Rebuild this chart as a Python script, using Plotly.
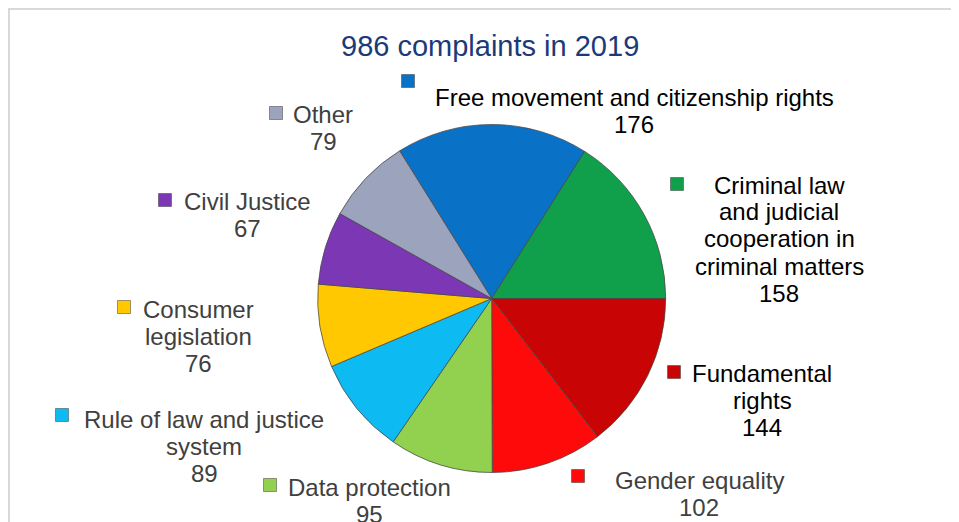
import plotly.graph_objects as go

# ---- data ----
categories = [
    "Free movement and citizenship rights",
    "Criminal law and judicial cooperation in criminal matters",
    "Fundamental rights",
    "Gender equality",
    "Data protection",
    "Rule of law and justice system",
    "Consumer legislation",
    "Civil Justice",
    "Other",
]
values = [176, 158, 144, 102, 95, 89, 76, 67, 79]
label_lines = [
    ["Free movement and citizenship rights"],
    ["Criminal law", "and judicial", "cooperation in", "criminal matters"],
    ["Fundamental", "rights"],
    ["Gender equality"],
    ["Data protection"],
    ["Rule of law and justice", "system"],
    ["Consumer", "legislation"],
    ["Civil Justice"],
    ["Other"],
]
title_text = "986 complaints in 2019"

# ---- styles ----
colors = ["#0A72C6", "#10A04C", "#C80404", "#FF0A0A", "#92D050",
          "#0DBBF2", "#FFC800", "#7C38B4", "#9CA3BC"]
text_colors = ["#000000", "#000000", "#000000", "#404040", "#404040",
               "#404040", "#404040", "#404040", "#404040"]
W, H = 959, 522
OFF = 8  # page body margin of the html page
# label text centre (x, first line y) in page pixels
label_pos = [(634, 97), (779, 185), (762, 373), (699, 480), (369, 487),
             (204, 419), (198, 309), (247, 201), (323, 115)]
marker_pos = [(408, 81), (677, 184), (674, 372), (578, 476), (270, 485),
              (62, 415), (124, 307), (165, 200), (276, 113)]
line_gap = 27
font_size = 24


def px(x):
    return (x - OFF) / W


def py(y):
    return 1 - (y - OFF) / H


# pie geometry (page pixels)
cx, cy, r = 491.7, 298.5, 174
rotation = 90 - (values[0] + values[1]) / sum(values) * 360

fig = go.Figure(go.Pie(
    labels=categories,
    values=values,
    sort=False,
    direction="clockwise",
    rotation=rotation,
    marker=dict(colors=colors, line=dict(color="rgba(70,70,70,0.75)", width=1)),
    textinfo="none",
    textposition="none",
    showlegend=False,
    domain=dict(x=[px(cx - r), px(cx + r)], y=[py(cy + r), py(cy - r)]),
))

ann = []
shapes = []
for i, lines in enumerate(label_lines):
    x0, y0 = label_pos[i]
    all_lines = lines + [str(values[i])]
    for k, t in enumerate(all_lines):
        ann.append(dict(
            x=px(x0), y=py(y0 + k * line_gap), xref="paper", yref="paper",
            text=t, showarrow=False, xanchor="center", yanchor="middle",
            font=dict(family="Liberation Sans, Arial, sans-serif", size=font_size, color=text_colors[i]),
        ))
    mx, my = marker_pos[i]
    s = 6.5
    shapes.append(dict(
        type="rect", xref="paper", yref="paper",
        x0=px(mx - s), x1=px(mx + s), y0=py(my + s), y1=py(my - s),
        fillcolor=colors[i], line=dict(color="rgba(60,60,60,0.5)", width=1),
    ))

ann.append(dict(
    x=px(490), y=py(46), xref="paper", yref="paper", text=title_text,
    showarrow=False, xanchor="center", yanchor="middle",
    font=dict(family="Liberation Sans, Arial, sans-serif", size=29, color="#1B3A78"),
))

# outer frame
shapes.append(dict(
    type="rect", xref="paper", yref="paper",
    x0=1 / W, x1=1.05, y0=-0.05, y1=1 - 1 / H,
    line=dict(color="#D9D9D9", width=2), fillcolor="rgba(0,0,0,0)",
))

fig.update_layout(
    width=W, height=H,
    margin=dict(l=0, r=0, t=0, b=0),
    paper_bgcolor="white",
    plot_bgcolor="white",
    annotations=ann,
    shapes=shapes,
)

fig.write_html("out.html")
